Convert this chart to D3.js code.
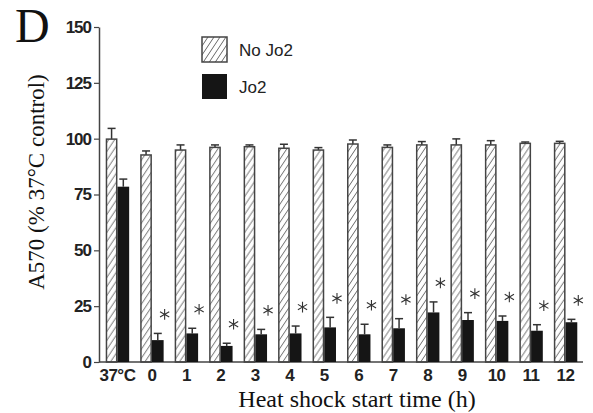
<!DOCTYPE html>
<html>
<head>
<meta charset="utf-8">
<script src="https://cdn.jsdelivr.net/npm/d3@7"></script>
<style>
  body { margin: 0; background: #fff; }
  .tick text { font-family: "Liberation Sans", Arial, sans-serif; font-weight: bold; }
</style>
</head>
<body>
<div class="chart"></div>
<script>
// DATA ---------------------------------------------------------------

const categories = ['37°C', '0', '1', '2', '3', '4', '5', '6', '7', '8', '9', '10', '11', '12'];
const noJo2 = [99.8, 92.7, 94.9, 96.1, 96.4, 95.7, 94.9, 97.6, 96.1, 97.2, 97.2, 97.2, 97.9, 97.9];
const noJo2Err = [4.8, 1.8, 2.3, 1.1, 0.8, 1.8, 1.1, 1.8, 1.1, 1.5, 2.7, 1.9, 0.6, 0.9];
const jo2 = [78.5, 9.8, 12.8, 7.2, 12.4, 12.8, 15.5, 12.4, 15.1, 22.2, 18.8, 18.4, 14.0, 17.8];
const jo2Err = [3.4, 3.0, 2.3, 1.2, 2.2, 3.3, 4.5, 4.5, 4.3, 4.7, 3.3, 2.2, 2.7, 1.3];
const significant = [false, true, true, true, true, true, true, true, true, true, true, true, true, true];
const yTicks = [0, 25, 50, 75, 100, 125, 150];

// CHART INIT ---------------------------------------------------------

const width = 593;
const height = 413;
const plot = ({left: 99, right: 584, top: 27, bottom: 362});

const svg = d3.select('.chart')
    .append('svg')
    .attr('width', width)
    .attr('height', height);

// hatch pattern for the "No Jo2" bars
const defs = svg.append('defs');
defs.append('pattern')
    .attr('id', 'hatch')
    .attr('patternUnits', 'userSpaceOnUse')
    .attr('width', 6)
    .attr('height', 9)
    .append('path')
    .attr('d', 'M0,9 L6,0 M-1,1.5 L1,-1.5 M5,10.5 L7,7.5')
    .attr('stroke', '#555')
    .attr('stroke-width', 0.9);

// scales
const xScale = d3.scaleBand()
    .domain(categories)
    .range([plot.left, plot.right])
    .paddingInner(0.32)
    .paddingOuter(0.195);

const subScale = d3.scaleBand()
    .domain(['noJo2', 'jo2'])
    .range([0, xScale.bandwidth()]);

const yScale = d3.scaleLinear()
    .domain([0, 150])
    .range([plot.bottom, plot.top]);

// rows built from the arrays
const rows = categories.map((c, i) => ({
    cat: c,
    noJo2: noJo2[i], noJo2Err: noJo2Err[i],
    jo2: jo2[i], jo2Err: jo2Err[i],
    sig: significant[i]
}));

// AXES ---------------------------------------------------------------

const yAxis = d3.axisLeft(yScale)
    .tickValues(yTicks)
    .tickSize(5)
    .tickSizeOuter(0)
    .tickPadding(3);

const gy = svg.append('g')
    .attr('class', 'axis y-axis')
    .attr('transform', 'translate(' + plot.left + ',0)')
    .call(yAxis);
gy.select('.domain').attr('stroke', '#444').attr('stroke-width', 1.5);
gy.selectAll('.tick line').attr('stroke', '#444').attr('stroke-width', 1.2);
gy.selectAll('.tick text')
    .attr('font-size', 17)
    .attr('letter-spacing', -1)
    .attr('fill', '#222');

const xAxis = d3.axisBottom(xScale)
    .tickSize(0)
    .tickPadding(7);

const gx = svg.append('g')
    .attr('class', 'axis x-axis')
    .attr('transform', 'translate(0,' + plot.bottom + ')')
    .call(xAxis);
gx.select('.domain')
    .attr('d', 'M' + plot.left + ',0H' + (plot.right - 1))
    .attr('stroke', '#444')
    .attr('stroke-width', 1.5);
gx.selectAll('.tick text')
    .attr('font-size', 17)
    .attr('letter-spacing', -0.5)
    .attr('fill', '#222');

// BARS ---------------------------------------------------------------

const groups = svg.selectAll('.group')
    .data(rows)
    .enter()
    .append('g')
    .attr('class', 'group')
    .attr('transform', d => 'translate(' + xScale(d.cat) + ',0)');

const bw = subScale.bandwidth();

// error bars first so the bar outline sits on top of the stem
function errorBar(sel, key, errKey) {
    const cx = subScale(key) + bw / 2;
    sel.append('line')
        .attr('x1', cx).attr('x2', cx)
        .attr('y1', d => yScale(d[key]))
        .attr('y2', d => yScale(d[key] + d[errKey]))
        .attr('stroke', '#333')
        .attr('stroke-width', 1.5);
    sel.append('line')
        .attr('x1', cx - 4).attr('x2', cx + 4)
        .attr('y1', d => yScale(d[key] + d[errKey]))
        .attr('y2', d => yScale(d[key] + d[errKey]))
        .attr('stroke', '#333')
        .attr('stroke-width', 1.5);
}
errorBar(groups, 'noJo2', 'noJo2Err');
errorBar(groups, 'jo2', 'jo2Err');

groups.append('rect')
    .attr('x', subScale('noJo2') + 0.75)
    .attr('width', bw - 1.5)
    .attr('y', d => yScale(d.noJo2))
    .attr('height', d => plot.bottom - yScale(d.noJo2))
    .attr('fill', 'url(#hatch)')
    .attr('stroke', '#444')
    .attr('stroke-width', 1.5);

groups.append('rect')
    .attr('x', subScale('jo2'))
    .attr('width', bw)
    .attr('y', d => yScale(d.jo2))
    .attr('height', d => plot.bottom - yScale(d.jo2))
    .attr('fill', '#151515');

// significance asterisks, drawn as symbols
const asterisk = d3.symbol().type(d3.symbolAsterisk).size(80);
groups.filter(d => d.sig)
    .append('path')
    .attr('class', 'sig')
    .attr('d', asterisk)
    .attr('transform', d => 'translate(' + (subScale('jo2') + bw + 1) + ','
        + (yScale(d.jo2 + d.jo2Err) - 19) + ')')
    .attr('fill', 'none')
    .attr('stroke', '#333')
    .attr('stroke-width', 1.1);

// LEGEND -------------------------------------------------------------

const legend = svg.append('g')
    .attr('transform', 'translate(202,37)');

legend.append('rect')
    .attr('width', 25).attr('height', 25)
    .attr('fill', 'url(#hatch)')
    .attr('stroke', '#444')
    .attr('stroke-width', 1.5);
legend.append('rect')
    .attr('y', 37)
    .attr('width', 25).attr('height', 25)
    .attr('fill', '#151515');

legend.selectAll('.legend-label')
    .data(['No Jo2', 'Jo2'])
    .enter()
    .append('text')
    .attr('class', 'legend-label')
    .attr('x', 37)
    .attr('y', (d, i) => 19 + i * 37)
    .attr('font-family', '"Liberation Sans", Arial, sans-serif')
    .attr('font-size', 17)
    .attr('fill', '#222')
    .text(d => d);

// TITLES -------------------------------------------------------------

svg.append('text')
    .attr('x', 15)
    .attr('y', 42)
    .attr('font-family', '"Liberation Serif", "Times New Roman", serif')
    .attr('font-size', 48)
    .attr('fill', '#111')
    .text('D');

svg.append('text')
    .attr('class', 'y-axis-title')
    .attr('transform', 'translate(44,' + 182 + ') rotate(-90)')
    .attr('text-anchor', 'middle')
    .attr('font-family', '"Liberation Serif", "Times New Roman", serif')
    .attr('font-size', 23)
    .attr('fill', '#111')
    .text('A570 (% 37°C control)');

svg.append('text')
    .attr('class', 'x-axis-title')
    .attr('x', 357)
    .attr('y', 407)
    .attr('text-anchor', 'middle')
    .attr('font-family', '"Liberation Serif", "Times New Roman", serif')
    .attr('font-size', 24)
    .attr('fill', '#111')
    .text('Heat shock start time (h)');
</script>
</body>
</html>
